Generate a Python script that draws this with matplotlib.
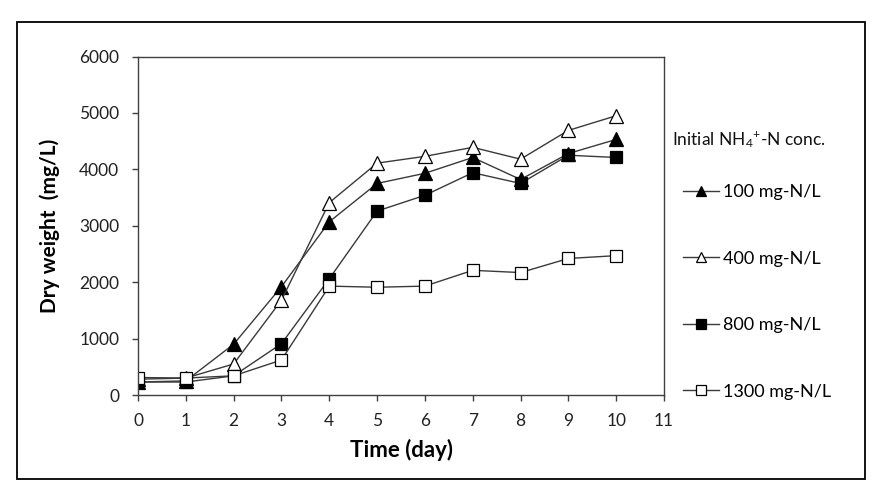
import numpy as np
import matplotlib.pyplot as plt
from matplotlib.patches import Rectangle

plt.rcParams['font.family'] = ['Lato', 'DejaVu Sans']
plt.rcParams['mathtext.fontset'] = 'custom'
plt.rcParams['mathtext.rm'] = 'Lato'
plt.rcParams['mathtext.it'] = 'Lato:italic'
plt.rcParams['mathtext.bf'] = 'Lato:bold'

days = [0, 1, 2, 3, 4, 5, 6, 7, 8, 9, 10]
dw_100 = [230, 250, 900, 1920, 3070, 3750, 3930, 4210, 3820, 4280, 4530]
dw_400 = [280, 300, 550, 1680, 3410, 4110, 4230, 4390, 4180, 4690, 4950]
dw_800 = [230, 230, 340, 910, 2060, 3260, 3540, 3940, 3750, 4250, 4210]
dw_1300 = [310, 300, 340, 620, 1930, 1910, 1930, 2210, 2170, 2420, 2470]

labels = ['100 mg-N/L', '400 mg-N/L', '800 mg-N/L', '1300 mg-N/L']
markers = ['^', '^', 's', 's']
faces = ['black', 'white', 'black', 'white']
series = [dw_100, dw_400, dw_800, dw_1300]

fig = plt.figure(figsize=(8.82, 4.87), dpi=100)
ax = fig.add_axes([138/882, 1-395/487, (664-138)/882, (395-56.5)/487])

line_col = '#3a3a3a'
for vals, m, fc, lab in zip(series, markers, faces, labels):
    ax.plot(days, vals, color=line_col, lw=1.0, marker=m, ms=9.5 if m == '^' else 8.5,
            mfc=fc, mec='black', mew=0.9, label=lab)

ax.set_xlim(0, 11)
ax.set_ylim(0, 6000)
ax.set_xticks(range(0, 12))
ax.set_yticks(range(0, 6001, 1000))
for s in ax.spines.values():
    s.set_color('#404040')
    s.set_linewidth(1.0)
ax.tick_params(direction='out', length=4.5, width=1, color='#404040',
               labelsize=12.5, labelcolor='#222222')
ax.tick_params(axis='x', pad=8.5)
ax.tick_params(axis='y', pad=9)

ax.set_xlabel('Time (day)', fontsize=16, fontweight='bold', labelpad=7)
ax.set_ylabel('Dry weight  (mg/L)', fontsize=15, fontweight='bold', labelpad=14)

# legend title placed separately (the entries sit far below it)
fig.text(672/882, 1-140/487, r'Initial NH$_4{}^{+}$-N conc.', fontsize=12.5,
         ha='left', va='center', color='#111111')
leg = ax.legend(loc='upper left', bbox_to_anchor=(683/882, 1-184/487),
                bbox_transform=fig.transFigure, frameon=False,
                fontsize=13, labelspacing=2.8, handlelength=2.0,
                handletextpad=0.2, borderaxespad=0, borderpad=0)
for h in leg.legend_handles:
    h.set_markersize(7.5)

fig.patches.append(Rectangle((16.5/882, 1-479/487), (865-16.5)/882, (479-21.5)/487,
                             transform=fig.transFigure, fill=False,
                             edgecolor='black', lw=1.3))

plt.savefig('out.png', dpi=100)
